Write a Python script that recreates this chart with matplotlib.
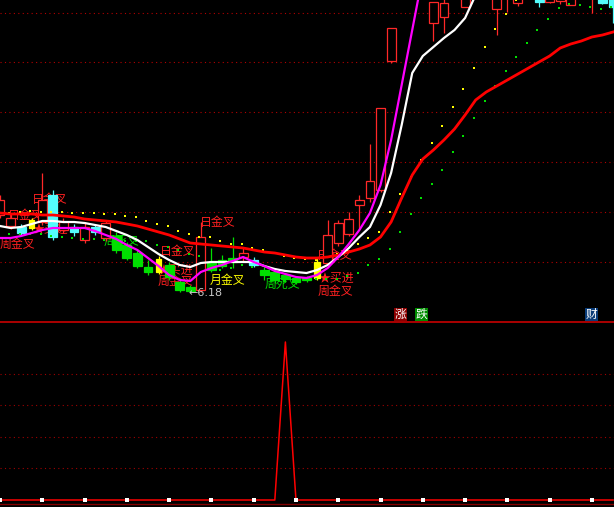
import matplotlib
matplotlib.use("Agg")
import matplotlib.pyplot as plt
from matplotlib.patches import Rectangle
import numpy as np

plt.rcParams['font.family'] = ['Noto Sans CJK SC', 'DejaVu Sans']

nan = np.nan

# 日K线 (开 高 低 收), 共59根
opens = [7.74, 7.52, 7.50, 7.48, 7.60, 8.14, 7.44, 7.50, 7.24, 7.50,
         7.28, 7.32, 7.14, 6.98, 6.70, 6.60, 6.74, 6.40, 6.30, 6.24,
         6.78, 6.84, 6.88, 6.90, 6.84, 6.64, 6.60, 6.54, 6.48, 6.48,
         6.48, 6.78, 7.18, 7.36, 7.94, 8.08, 8.24, 10.82, 12.30, 13.80,
         14.00, 11.58, 11.70, 12.60, 11.90, 12.80, 13.40, 11.86, 12.40, 11.98,
         12.40, 12.40, 12.00, 12.02, 11.94, 12.20, 12.20, 12.40, 12.30]
highs = [8.14, 7.76, 7.56, 7.68, 8.58, 8.24, 7.68, 7.56, 7.60, 7.56,
         7.64, 7.40, 7.20, 7.04, 6.84, 6.92, 6.80, 6.48, 6.34, 7.60,
         7.08, 6.94, 7.30, 7.08, 6.90, 6.70, 6.68, 6.58, 6.52, 6.52,
         6.88, 7.64, 7.64, 7.80, 8.14, 9.16, 9.88, 11.48, 13.78, 14.60,
         14.40, 12.00, 12.10, 13.40, 12.70, 13.50, 13.60, 12.60, 13.00, 12.50,
         12.90, 12.50, 12.60, 12.40, 12.50, 12.80, 12.70, 12.50, 12.40]
lows = [7.68, 7.46, 7.32, 7.44, 7.54, 7.24, 7.38, 7.32, 7.18, 7.34,
        7.22, 6.98, 6.84, 6.68, 6.54, 6.56, 6.44, 6.20, 6.18, 6.20,
        6.60, 6.68, 6.68, 6.80, 6.70, 6.44, 6.38, 6.40, 6.36, 6.40,
        6.44, 6.76, 7.12, 7.32, 7.44, 8.00, 8.20, 10.78, 12.20, 13.40,
        12.60, 11.22, 11.38, 12.40, 11.90, 12.60, 12.70, 11.34, 11.80, 11.92,
        12.20, 11.90, 11.98, 11.96, 11.94, 12.10, 11.78, 11.96, 11.58]
closes = [8.04, 7.68, 7.38, 7.64, 8.04, 7.30, 7.60, 7.40, 7.50, 7.40,
          7.58, 7.04, 6.88, 6.72, 6.60, 6.86, 6.50, 6.24, 6.22, 7.30,
          6.64, 6.72, 6.80, 6.98, 6.74, 6.54, 6.44, 6.46, 6.40, 6.44,
          6.80, 7.34, 7.58, 7.66, 8.04, 8.42, 9.88, 11.48, 13.70, 14.20,
          13.00, 12.00, 11.98, 13.20, 12.50, 13.30, 12.90, 12.40, 12.80, 12.40,
          12.70, 12.00, 12.50, 12.30, 12.40, 12.60, 12.50, 11.98, 11.90]
# r 阳线(空心红) c 阴线(青) g 绿色柱 y 黄色信号柱
kinds = "rrcyrcrcrc" "rggggygggr" "gggrcggggg" "yrrrrrrrrr" "crrrrrcrrr" "rcrrrrrcc"

# 均线
ma_red = [7.78, 7.76, 7.76, 7.76, 7.74, 7.74, 7.72, 7.70, 7.66, 7.64,
          7.62, 7.60, 7.56, 7.52, 7.46, 7.40, 7.34, 7.26, 7.18, 7.16,
          7.14, 7.12, 7.10, 7.08, 7.04, 7.00, 6.98, 6.94, 6.90, 6.88,
          6.88, 6.90, 6.94, 7.00, 7.06, 7.14, 7.30, 7.60, 8.08, 8.54,
          8.86, 9.04, 9.24, 9.46, 9.74, 10.04, 10.20, 10.32, 10.44, 10.56,
          10.68, 10.80, 10.92, 11.08, 11.16, 11.22, 11.30, 11.34, 11.40]
ma_white = [7.52, 7.48, 7.50, 7.56, 7.62, 7.62, 7.60, 7.60, 7.58, 7.54,
            7.50, 7.42, 7.34, 7.24, 7.10, 6.96, 6.84, 6.74, 6.70, 6.78,
            6.80, 6.80, 6.80, 6.80, 6.80, 6.72, 6.66, 6.62, 6.60, 6.58,
            6.64, 6.74, 6.90, 7.08, 7.30, 7.50, 7.94, 8.58, 9.54, 10.58,
            10.92, 11.10, 11.28, 11.44, 11.68, 12.14, nan, nan, nan, nan,
            nan, nan, nan, nan, nan, nan, nan, nan, nan]
ma_magenta = [7.28, 7.28, 7.32, 7.38, 7.44, 7.48, 7.48, 7.48, 7.48, 7.42,
              7.34, 7.26, 7.14, 7.04, 6.88, 6.72, 6.54, 6.44, 6.42, 6.60,
              6.68, 6.74, 6.82, 6.90, 6.80, 6.72, 6.62, 6.56, 6.50, 6.48,
              6.54, 6.68, 6.90, 7.16, 7.44, 7.78, 8.34, 9.24, 10.34, 11.44,
              12.54, nan, nan, nan, nan, nan, nan, nan, nan, nan,
              nan, nan, nan, nan, nan, nan, nan, nan, nan]

# 点状指标
dot_yellow = [7.78, 7.78, 7.80, 7.82, 7.80, 7.80, 7.80, 7.78, 7.78, 7.78,
              7.76, 7.76, 7.72, 7.70, 7.62, 7.56, 7.52, 7.42, 7.36, 7.30,
              7.30, 7.22, 7.16, 7.16, 7.08, 7.04, 6.98, 6.92, 6.88, 6.86,
              6.84, 6.90, 6.96, 7.04, 7.16, 7.28, 7.40, 7.80, 8.16, 8.50,
              8.84, 9.18, 9.52, 9.90, 10.26, 10.68, 11.10, 11.46, 11.76, 12.04,
              nan, nan, nan, nan, nan, nan, nan, nan, nan]
dot_green = [7.36, 7.36, 7.36, 7.36, 7.36, 7.32, 7.30, 7.28, 7.26, 7.26,
             7.24, 7.24, 7.22, 7.22, 7.22, 7.14, 7.10, 7.04, 6.96, 6.92,
             6.76, 6.64, 6.68, 6.74, 6.70, 6.60, 6.52, 6.42, 6.44, 6.48,
             6.46, 6.46, 6.46, 6.52, 6.58, 6.74, 6.86, 7.06, 7.40, 7.76,
             8.08, 8.36, 8.64, 9.00, 9.32, 9.68, 10.02, 10.32, 10.62, 10.90,
             11.18, 11.44, 11.66, 11.88, 11.96, 11.94, 11.90, 11.86, 11.90]

# 信号文字 (文字, K线序号, 价位, 颜色)
RED, GREEN, YELLOW = '#ff2020', '#00e000', '#ffff00'
labels = [
    ("日金叉", 3.03, 8.04, RED),
    ("日金叉", 0.76, 7.72, RED),
    ("★买进", 3.12, 7.46, RED),
    ("周金叉", 0.0, 7.16, RED),
    ("周死叉", 9.84, 7.22, GREEN),
    ("日金叉", 15.14, 7.00, RED),
    ("★买进", 14.95, 6.64, RED),
    ("周金叉", 14.95, 6.42, RED),
    ("日金叉", 18.92, 7.58, RED),
    ("月金叉", 19.87, 6.44, YELLOW),
    ("周死叉", 25.07, 6.36, GREEN),
    ("日金叉", 29.99, 6.92, RED),
    ("★买进", 30.09, 6.48, RED),
    ("周金叉", 30.09, 6.22, RED),
]
low_price = 6.18
low_bar = 17.79

# 副图指标
signal = [0] * 27 + [100] + [0] * 31
mark_bars = [0, 4, 8, 12, 16, 20, 24, 28, 32, 36, 40, 44, 48, 52, 56]

W, H = 614, 507
fig = plt.figure(figsize=(W / 100, H / 100), dpi=100, facecolor='black')
ax = fig.add_axes([0, 1 - 322 / H, 1, 322 / H], facecolor='black')
ax2 = fig.add_axes([0, 3 / H, 1, 182 / H], facecolor='black')

x = np.arange(len(opens))
xmax = W / 10.57

# 主图
col = {'r': '#ff2828', 'c': '#54fcfc', 'g': '#00e000', 'y': '#ffff00'}
for i in x:
    k = kinds[i]
    c = col[k]
    lo = min(opens[i], closes[i])
    hi = max(opens[i], closes[i])
    w = 0.5 if k == 'y' else 0.84
    ax.vlines(i, lows[i], highs[i], color=c, lw=0.9, zorder=2)
    ax.bar(i, max(hi - lo, 0.01), w, bottom=lo,
           facecolor='black' if k == 'r' else c, edgecolor=c,
           linewidth=0.9, zorder=2.2)

ax.plot(x - 0.15, dot_yellow, 's', color='#ffff00', ms=1.7, mew=0, zorder=2.5)
ax.plot(x - 0.15, dot_green, 's', color='#00e000', ms=2.0, mew=0, zorder=2.5)

for t, xi, yi, c in labels:
    ax.text(xi, yi, t, color=c, fontsize=8.6, ha='left', va='center',
            zorder=1.8, clip_on=True)
ax.text(low_bar, low_price, "←%.2f" % low_price, color='#c8c8c8', fontsize=8,
        family='DejaVu Sans', ha='left', va='center', zorder=5)

ax.plot(x, ma_red, color='#ff0000', lw=2.0, zorder=4, solid_joinstyle='round')
ax.plot(x, ma_white, color='#ffffff', lw=1.6, zorder=4.1, solid_joinstyle='round')
ax.plot(x, ma_magenta, color='#ff00ff', lw=1.6, zorder=4.2, solid_joinstyle='round')

ax.set_xlim(0, xmax)
ax.set_ylim(5.60, 12.04)
ax.set_yticks([6.80, 7.80, 8.80, 9.80, 10.80, 11.78])
ax.grid(axis='y', color='#b40000', lw=0.8, linestyle=(0, (1, 3)))
ax.set_axisbelow(True)
ax.tick_params(left=False, bottom=False, labelleft=False, labelbottom=False)
for s in ax.spines.values():
    s.set_visible(False)

# 副图
ax2.plot(x, signal, color='#ff0000', lw=1.1, zorder=3)
ax2.plot(mark_bars, [0] * len(mark_bars), 's', color='white', ms=3, mew=0, zorder=4)
ax2.set_xlim(0, xmax)
ax2.set_ylim(-2.53, 112.66)
ax2.set_yticks([20, 40, 60, 80])
ax2.grid(axis='y', color='#a00000', lw=0.8, linestyle=(0, (1, 3)))
ax2.set_axisbelow(True)
ax2.tick_params(left=False, bottom=False, labelleft=False, labelbottom=False)
for k, s in ax2.spines.items():
    s.set_visible(k in ('top', 'bottom'))
ax2.spines['top'].set_color('#c80000')
ax2.spines['top'].set_linewidth(1.2)
ax2.spines['bottom'].set_color('#800000')
ax2.spines['bottom'].set_linewidth(1.0)

# 涨 跌 财 按钮
for t, px, bg in [("涨", 394, '#8c0000'), ("跌", 415, '#008c00'), ("财", 585, '#0a3c78')]:
    fig.add_artist(Rectangle((px / W, 1 - 321 / H), 13 / W, 13 / H,
                             transform=fig.transFigure, facecolor=bg, edgecolor='none'))
    fig.text((px + 6.5) / W, 1 - 314.5 / H, t, color='white', fontsize=8.5,
             ha='center', va='center')

fig.savefig('out.png', dpi=100, facecolor='black')
